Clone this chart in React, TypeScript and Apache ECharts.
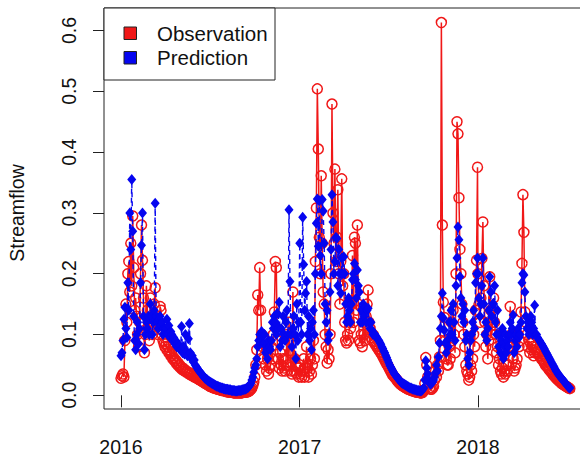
import React, { useEffect, useRef } from "react";
import * as echarts from "echarts";

// Streamflow sampled every second day, starting on 1 January of each year
// (one row per month).
const obs2016 = [
  0.028, 0.032, 0.035, 0.03, 0.09, 0.15, 0.12, 0.2, 0.22, 0.17, 0.25, 0.18, 0.295, 0.21, 0.14, 0.16,
  0.13, 0.1, 0.08, 0.12, 0.2, 0.28, 0.222, 0.16, 0.07, 0.1, 0.18, 0.14, 0.12, 0.09,
  0.16, 0.14, 0.1, 0.12, 0.15, 0.177, 0.13, 0.12, 0.1, 0.11, 0.146, 0.14, 0.1, 0.09, 0.085, 0.08,
  0.085, 0.075, 0.08, 0.07, 0.072, 0.065, 0.068, 0.06, 0.062, 0.056, 0.058, 0.052, 0.054, 0.048, 0.05,
  0.045, 0.046, 0.042, 0.044, 0.04, 0.041, 0.038, 0.039, 0.036, 0.037, 0.034, 0.035, 0.032, 0.033, 0.03,
  0.03, 0.029, 0.028, 0.027, 0.026, 0.025, 0.024, 0.023, 0.022, 0.021, 0.02, 0.019, 0.018, 0.017, 0.016,
  0.015, 0.014, 0.014, 0.013, 0.012, 0.012, 0.011, 0.011, 0.01, 0.01, 0.009, 0.009, 0.008, 0.008, 0.008, 0.007,
  0.007, 0.006, 0.006, 0.006, 0.005, 0.005, 0.005, 0.005, 0.004, 0.004, 0.004, 0.004, 0.004, 0.004, 0.004,
  0.004, 0.004, 0.004, 0.005, 0.005, 0.005, 0.005, 0.006, 0.006, 0.007, 0.008, 0.01, 0.012, 0.016, 0.022,
  0.03, 0.05, 0.075, 0.165, 0.14, 0.21, 0.14, 0.1, 0.08, 0.06, 0.09, 0.05, 0.04, 0.06, 0.035, 0.045,
  0.05, 0.08, 0.06, 0.1, 0.137, 0.22, 0.21, 0.09, 0.06, 0.045, 0.07, 0.05, 0.04, 0.06, 0.045,
  0.04, 0.06, 0.1, 0.05, 0.12, 0.07, 0.04, 0.035, 0.17, 0.04, 0.06, 0.05, 0.035, 0.045, 0.03,
];
const pred2016 = [
  0.065, 0.07, 0.09, 0.125, 0.145, 0.11, 0.095, 0.185, 0.14, 0.3, 0.24, 0.355, 0.27, 0.13, 0.09, 0.075,
  0.1, 0.12, 0.085, 0.11, 0.185, 0.247, 0.3, 0.13, 0.075, 0.1, 0.12, 0.11, 0.13, 0.1,
  0.15, 0.13, 0.1, 0.12, 0.14, 0.316, 0.13, 0.12, 0.11, 0.125, 0.13, 0.115, 0.12, 0.1, 0.11, 0.105,
  0.11, 0.125, 0.1, 0.115, 0.095, 0.105, 0.1, 0.09, 0.095, 0.085, 0.09, 0.08, 0.085, 0.078, 0.082,
  0.075, 0.113, 0.07, 0.08, 0.068, 0.1, 0.072, 0.065, 0.093, 0.118, 0.07, 0.06, 0.065, 0.055, 0.058,
  0.05, 0.047, 0.045, 0.042, 0.04, 0.038, 0.036, 0.034, 0.032, 0.03, 0.028, 0.027, 0.026, 0.024, 0.023,
  0.022, 0.021, 0.02, 0.019, 0.018, 0.017, 0.016, 0.015, 0.015, 0.014, 0.013, 0.013, 0.012, 0.012, 0.011, 0.011,
  0.01, 0.01, 0.01, 0.009, 0.009, 0.009, 0.008, 0.008, 0.008, 0.008, 0.007, 0.007, 0.007, 0.008, 0.008,
  0.008, 0.008, 0.009, 0.009, 0.01, 0.01, 0.011, 0.012, 0.013, 0.015, 0.017, 0.02, 0.025, 0.03, 0.038,
  0.045, 0.05, 0.06, 0.08, 0.09, 0.1, 0.09, 0.105, 0.1, 0.085, 0.1, 0.07, 0.075, 0.06, 0.09, 0.08,
  0.075, 0.09, 0.12, 0.11, 0.13, 0.12, 0.1, 0.135, 0.11, 0.153, 0.08, 0.11, 0.09, 0.13, 0.1,
  0.09, 0.12, 0.14, 0.1, 0.305, 0.187, 0.1, 0.08, 0.11, 0.13, 0.1, 0.06, 0.15, 0.09, 0.12,
];
const obs2017 = [
  0.05, 0.035, 0.03, 0.04, 0.06, 0.03, 0.045, 0.08, 0.05, 0.03, 0.04, 0.06, 0.035, 0.05, 0.09, 0.06,
  0.22, 0.308, 0.504, 0.405, 0.26, 0.2, 0.361, 0.25, 0.17, 0.15, 0.1, 0.08, 0.053, 0.075,
  0.06, 0.1, 0.2, 0.479, 0.3, 0.25, 0.372, 0.22, 0.26, 0.338, 0.2, 0.15, 0.22, 0.356, 0.18,
  0.2, 0.12, 0.09, 0.086, 0.1, 0.09, 0.12, 0.11, 0.15, 0.23, 0.12, 0.26, 0.25, 0.14, 0.28,
  0.15, 0.09, 0.086, 0.1, 0.08, 0.12, 0.1, 0.09, 0.13, 0.15, 0.173, 0.12, 0.11, 0.095, 0.09, 0.1,
  0.088, 0.085, 0.082, 0.08, 0.077, 0.075, 0.072, 0.07, 0.067, 0.064, 0.061, 0.058, 0.055, 0.052, 0.049,
  0.046, 0.043, 0.04, 0.037, 0.034, 0.032, 0.03, 0.028, 0.026, 0.024, 0.022, 0.02, 0.019, 0.017, 0.016,
  0.015, 0.014, 0.013, 0.012, 0.011, 0.01, 0.01, 0.009, 0.008, 0.008, 0.007, 0.007, 0.006, 0.006, 0.005, 0.005,
  0.005, 0.004, 0.004, 0.004, 0.005, 0.008, 0.02, 0.062, 0.05, 0.03, 0.018, 0.012, 0.01, 0.01, 0.012,
  0.015, 0.025, 0.04, 0.03, 0.05, 0.04, 0.063, 0.09, 0.613, 0.28, 0.153, 0.128, 0.09, 0.06, 0.05,
  0.05, 0.08, 0.06, 0.12, 0.09, 0.14, 0.1, 0.07, 0.2, 0.45, 0.43, 0.325, 0.24, 0.2, 0.15,
  0.12, 0.1, 0.08, 0.05, 0.04, 0.035, 0.025, 0.03, 0.05, 0.04, 0.06, 0.1, 0.08, 0.14, 0.222, 0.375,
];
const pred2017 = [
  0.25, 0.12, 0.1, 0.293, 0.215, 0.14, 0.168, 0.187, 0.1, 0.13, 0.09, 0.11, 0.075, 0.12, 0.14, 0.1,
  0.2, 0.283, 0.323, 0.245, 0.32, 0.23, 0.2, 0.322, 0.303, 0.25, 0.15, 0.12, 0.14, 0.09,
  0.1, 0.17, 0.24, 0.33, 0.285, 0.2, 0.22, 0.26, 0.258, 0.18, 0.24, 0.2, 0.168, 0.226, 0.2,
  0.228, 0.2, 0.15, 0.12, 0.13, 0.16, 0.14, 0.12, 0.15, 0.19, 0.2, 0.217, 0.19, 0.16, 0.206,
  0.18, 0.17, 0.12, 0.14, 0.12, 0.15, 0.13, 0.145, 0.12, 0.14, 0.143, 0.12, 0.11, 0.12, 0.107, 0.1,
  0.102, 0.1, 0.097, 0.095, 0.092, 0.09, 0.087, 0.084, 0.08, 0.077, 0.073, 0.07, 0.066, 0.062, 0.058,
  0.054, 0.05, 0.047, 0.044, 0.041, 0.038, 0.035, 0.033, 0.031, 0.029, 0.027, 0.025, 0.023, 0.021, 0.02,
  0.019, 0.018, 0.017, 0.016, 0.015, 0.014, 0.013, 0.012, 0.012, 0.011, 0.01, 0.01, 0.009, 0.009, 0.008, 0.008,
  0.008, 0.007, 0.007, 0.008, 0.01, 0.012, 0.025, 0.057, 0.045, 0.035, 0.025, 0.02, 0.018, 0.02, 0.022,
  0.025, 0.03, 0.037, 0.05, 0.04, 0.063, 0.086, 0.11, 0.13, 0.168, 0.127, 0.107, 0.086, 0.07, 0.09,
  0.08, 0.12, 0.1, 0.14, 0.1, 0.15, 0.12, 0.09, 0.18, 0.226, 0.277, 0.256, 0.195, 0.16, 0.13,
  0.15, 0.12, 0.14, 0.09, 0.1, 0.06, 0.05, 0.07, 0.09, 0.1, 0.12, 0.14, 0.11, 0.185, 0.2, 0.226,
];
const obs2018 = [
  0.2, 0.15, 0.12, 0.16, 0.225, 0.285, 0.18, 0.12, 0.08, 0.1, 0.06, 0.09, 0.195, 0.14, 0.1, 0.12,
  0.16, 0.12, 0.1, 0.07, 0.08, 0.05, 0.06, 0.04, 0.035, 0.045, 0.03, 0.04, 0.035, 0.05,
  0.04, 0.05, 0.08, 0.146, 0.1, 0.08, 0.06, 0.04, 0.045, 0.05, 0.06, 0.1, 0.08, 0.09, 0.137,
  0.217, 0.33, 0.268, 0.137, 0.12, 0.1, 0.08, 0.09, 0.07, 0.085, 0.075, 0.08, 0.065, 0.07, 0.075,
  0.072, 0.07, 0.068, 0.065, 0.063, 0.06, 0.058, 0.056, 0.053, 0.05, 0.048, 0.046, 0.044, 0.042, 0.04, 0.038,
  0.036, 0.034, 0.032, 0.03, 0.028, 0.027, 0.025, 0.024, 0.022, 0.021, 0.019, 0.018, 0.017, 0.016, 0.015,
  0.014, 0.013, 0.012, 0.011,
];
const pred2018 = [
  0.2, 0.16, 0.13, 0.15, 0.18, 0.226, 0.15, 0.1, 0.12, 0.09, 0.11, 0.14, 0.195, 0.17, 0.13, 0.15,
  0.15, 0.18, 0.12, 0.1, 0.14, 0.08, 0.1, 0.07, 0.09, 0.11, 0.06, 0.08, 0.1, 0.07,
  0.09, 0.08, 0.1, 0.12, 0.1, 0.11, 0.132, 0.07, 0.09, 0.1, 0.08, 0.11, 0.095, 0.1, 0.12,
  0.185, 0.2, 0.198, 0.17, 0.13, 0.11, 0.12, 0.1, 0.11, 0.13, 0.12, 0.1, 0.11, 0.148, 0.1,
  0.1, 0.095, 0.092, 0.09, 0.087, 0.085, 0.082, 0.079, 0.076, 0.073, 0.07, 0.067, 0.064, 0.061, 0.058, 0.055,
  0.052, 0.049, 0.046, 0.043, 0.04, 0.038, 0.035, 0.033, 0.031, 0.029, 0.027, 0.025, 0.023, 0.021, 0.019,
  0.017, 0.015, 0.013, 0.012,
];

const STEP_DAYS = 2;
const yearTicks = [2016, 2017, 2018];
const yTicks = [0, 0.1, 0.2, 0.3, 0.4, 0.5, 0.6];
const legendNames = ["Observation", "Prediction"];

const DAY = 86400000;
const RED = "#f01818";
const BLUE = "#0505f0";
const FONT = "'Liberation Sans', Arial, sans-serif";

const toSeries = (year: number, values: number[]) =>
  values.map((v, i) => [Date.UTC(year, 0, 1) + i * STEP_DAYS * DAY, v]);

const obsData = [
  ...toSeries(2016, obs2016),
  ...toSeries(2017, obs2017),
  ...toSeries(2018, obs2018),
];
const predData = [
  ...toSeries(2016, pred2016),
  ...toSeries(2017, pred2017),
  ...toSeries(2018, pred2018),
];

const yearStamps = yearTicks.map((y) => Date.UTC(y, 0, 1));
const T0 = Date.UTC(2016, 0, 1);

export default function App() {
  const ref = useRef<HTMLDivElement>(null);

  useEffect(() => {
    if (!ref.current) return;
    const chart = echarts.init(ref.current, null, { renderer: "svg" });
    chart.setOption({
      animation: false,
      backgroundColor: "#fff",
      grid: {
        left: 104,
        top: 8,
        width: 500,
        height: 401,
        outerBoundsMode: "none",
        containLabel: false,
        show: true,
        borderColor: "#222",
        borderWidth: 1,
        backgroundColor: "transparent",
      },
      xAxis: {
        type: "value",
        min: T0 - 34.8 * DAY,
        max: T0 + 989 * DAY,
        axisLine: { show: false },
        splitLine: { show: false },
        axisTick: {
          show: true,
          length: 12,
          customValues: yearStamps,
          lineStyle: { color: "#222", width: 1 },
        },
        axisLabel: {
          customValues: yearStamps,
          formatter: (v: number) => String(new Date(v).getUTCFullYear()),
          margin: 28,
          fontSize: 19.5,
          color: "#111",
          fontFamily: FONT,
        },
      },
      yAxis: {
        type: "value",
        min: -0.0225,
        max: 0.637,
        axisLine: { show: false },
        splitLine: { show: false },
        axisTick: {
          show: true,
          length: 11,
          customValues: yTicks,
          lineStyle: { color: "#222", width: 1 },
        },
        axisLabel: {
          customValues: yTicks,
          rotate: 90,
          formatter: (v: number) => v.toFixed(1),
          margin: 25,
          fontSize: 19.5,
          color: "#111",
          fontFamily: FONT,
        },
      },
      series: [
        {
          name: legendNames[0],
          type: "line",
          data: obsData,
          symbol: "circle",
          symbolSize: 10,
          showAllSymbol: true,
          z: 2,
          lineStyle: { color: RED, width: 1.5 },
          itemStyle: { color: "rgba(0,0,0,0)", borderColor: RED, borderWidth: 1.5 },
        },
        {
          name: legendNames[1],
          type: "line",
          data: predData,
          symbol: "diamond",
          symbolSize: [9, 11],
          showAllSymbol: true,
          z: 3,
          lineStyle: { color: BLUE, width: 1.4, type: [5, 4] },
          itemStyle: { color: BLUE, borderWidth: 0 },
        },
      ],
      graphic: [
        {
          type: "text",
          x: 17,
          y: 213,
          rotation: Math.PI / 2,
          style: {
            text: "Streamflow",
            align: "center",
            verticalAlign: "middle",
            font: `19.5px ${FONT}`,
            fill: "#111",
          },
        },
        {
          type: "group",
          z: 100,
          children: [
            {
              type: "rect",
              shape: { x: 104, y: 8, width: 171, height: 72 },
              style: { fill: "#fff", stroke: "#222", lineWidth: 1 },
            },
            {
              type: "rect",
              shape: { x: 124, y: 27, width: 12.5, height: 12.5 },
              style: { fill: RED, stroke: "#222", lineWidth: 1 },
            },
            {
              type: "rect",
              shape: { x: 124, y: 51.5, width: 12.5, height: 12.5 },
              style: { fill: BLUE, stroke: "#222", lineWidth: 1 },
            },
            {
              type: "text",
              x: 157,
              y: 33,
              style: {
                text: legendNames[0],
                verticalAlign: "middle",
                font: `20.5px ${FONT}`,
                fill: "#111",
              },
            },
            {
              type: "text",
              x: 157,
              y: 57.5,
              style: {
                text: legendNames[1],
                verticalAlign: "middle",
                font: `20.5px ${FONT}`,
                fill: "#111",
              },
            },
          ],
        },
      ],
    });
    return () => chart.dispose();
  }, []);

  return (
    <div
      ref={ref}
      style={{ position: "absolute", left: 0, top: 0, width: 580, height: 457 }}
    />
  );
}
